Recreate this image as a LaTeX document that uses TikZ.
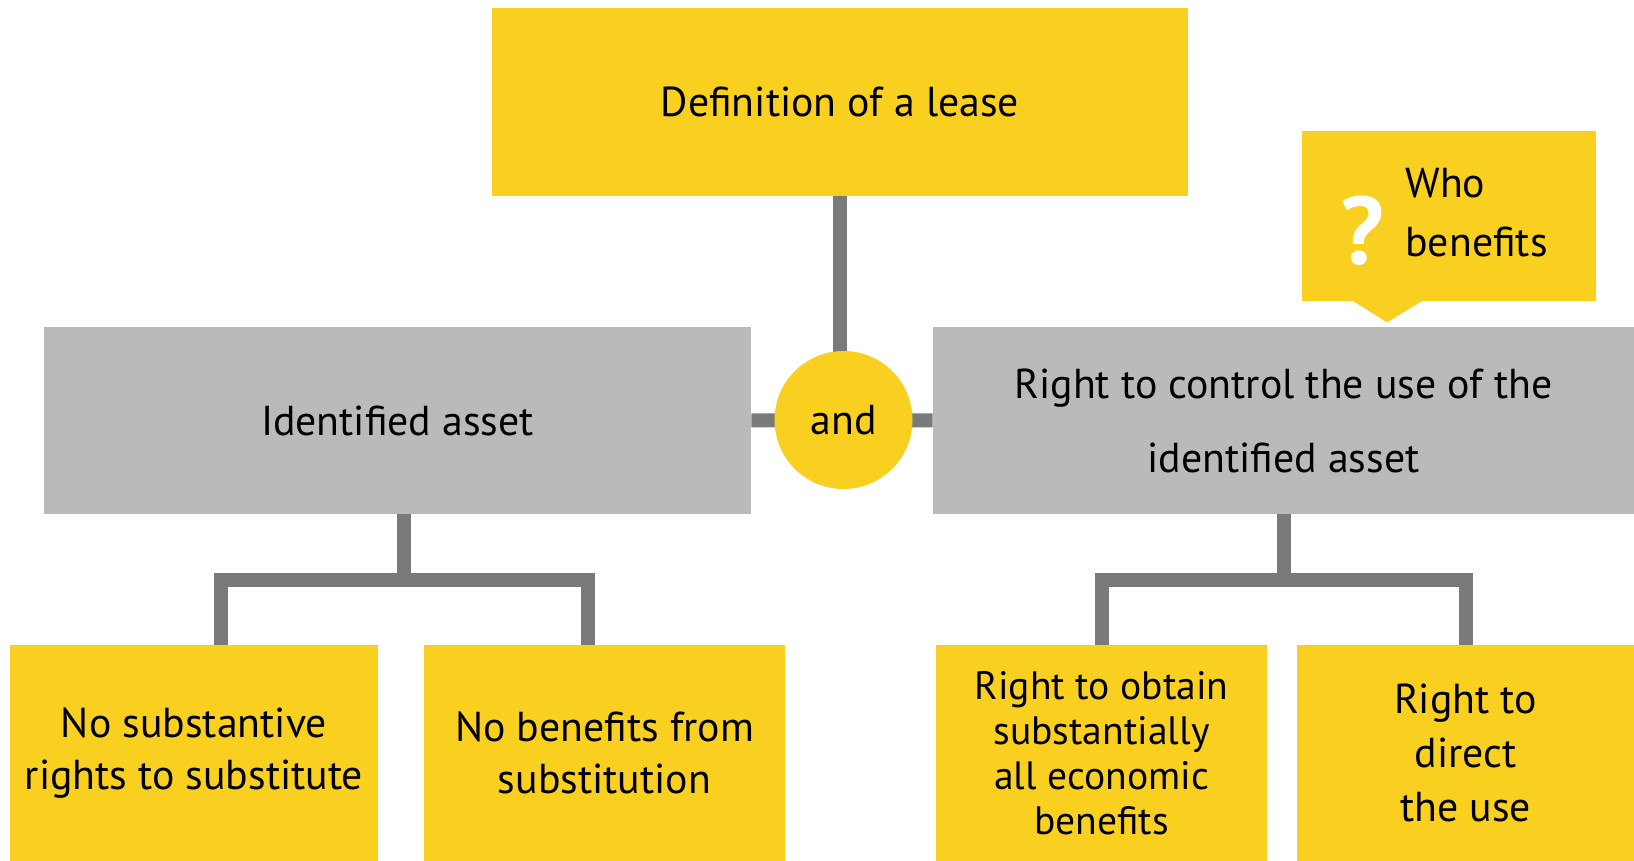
\documentclass[tikz,border=0pt]{standalone}
\usepackage{fontspec}
\setmainfont{PT Sans}
\usetikzlibrary{backgrounds,calc}
\definecolor{leaseyellow}{HTML}{F9D01F}
\definecolor{boxgray}{HTML}{BABABA}
\definecolor{linkgray}{HTML}{7A7A7A}

\begin{document}
\begin{tikzpicture}[x=0.5pt,y=-0.5pt,
  ybox/.style={fill=leaseyellow, inner sep=0pt, align=center, text=black},
  gbox/.style={fill=boxgray, inner sep=0pt, align=center, text=black},
  conn/.style={draw=linkgray, line width=7pt, line cap=butt, line join=miter},
  txt/.style={font=\fontsize{20.9}{#1}\selectfont},
  txt/.default=26
]
\useasboundingbox (0,0) rectangle (1634,861);

% top of the tree
\node[ybox, txt, minimum width=348pt, minimum height=94pt] (lease) at (840,102) {Definition of a lease};

% the two conditions joined by "and"
\node[gbox, txt, minimum width=353.5pt, minimum height=93.5pt] (asset) at (397.5,420.5) {Identified asset};
\node[gbox, txt=37, minimum width=350.5pt, minimum height=93.5pt] (control) at (1283.5,420.5) {Right to control the use of the\\identified asset};
\node[circle, fill=leaseyellow, txt, minimum size=69pt, inner sep=0pt] (and) at (843.5,420) {and};

% speech bubble above the control box
\node[ybox, minimum width=147pt, minimum height=85pt] (who) at (1449,216) {};
\fill[leaseyellow] ($(who.south)+(-97,-1)$) -- ($(who.south)+(-26,-1)$) -- ($(who.south)+(-62,21)$) -- cycle;
\node[inner sep=0pt, text=white, font=\fontsize{48}{48}\bfseries\selectfont] (qmark) at (1362,231) {?};
\node[inner sep=0pt, anchor=west, align=left, txt=29.5] (whotext) at (1405,213) {Who\\benefits};

% bottom row
\node[ybox, txt, minimum width=184pt, minimum height=108pt] (b1) at (194,753) {No substantive\\rights to substitute};
\node[ybox, txt, minimum width=180.5pt, minimum height=108pt] (b2) at (604.5,753) {No benefits from\\substitution};
\node[ybox, font=\fontsize{19.8}{22.5}\selectfont, minimum width=165.5pt, minimum height=108pt] (b3) at (1101.5,753) {Right to obtain\\substantially\\all economic\\benefits};
\node[ybox, txt=27, minimum width=168.5pt, minimum height=108pt] (b4) at (1465.5,753) {Right to\\direct\\the use};

% connectors
\coordinate (jl) at (404,580);
\coordinate (jr) at (1283.5,580);
\begin{scope}[on background layer]
  \draw[conn] (lease.south) -- (lease.south |- and.center);
  \draw[conn] (asset.east) -- (and.center);
  \draw[conn] (and.center) -- (control.west);
  \draw[conn] ([xshift=3.25pt]asset.south) -- (jl);
  \draw[conn] ([xshift=13.5pt]b1.north) |- (jl) -| ([xshift=-8.25pt]b2.north);
  \draw[conn] (control.south) -- (jr);
  \draw[conn] (b3.north) |- (jr) -| (b4.north);
\end{scope}
\end{tikzpicture}
\end{document}
